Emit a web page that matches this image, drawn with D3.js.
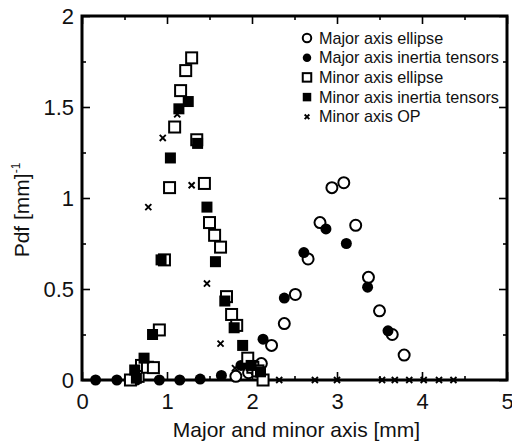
<!DOCTYPE html>
<html>
<head>
<meta charset="utf-8">
<script src="https://cdn.jsdelivr.net/npm/d3@7"></script>
<style>
  body { margin: 0; background: #fff; }
  svg { font-family: "Liberation Sans", Arial, sans-serif; }
</style>
</head>
<body>
<div id="chart"></div>
<script>
// values
const majorEllipseX = [1.81, 1.96, 2.05, 2.11, 2.23, 2.38, 2.51, 2.66, 2.80, 2.94, 3.08, 3.22, 3.37, 3.50, 3.65, 3.79];
const majorEllipseY = [0.02, 0.04, 0.05, 0.09, 0.19, 0.31, 0.47, 0.665, 0.865, 1.057, 1.084, 0.85, 0.564, 0.38, 0.25, 0.137];

const majorInertiaX = [0.16, 0.41, 0.64, 0.91, 1.15, 1.39, 1.64, 1.87, 2.00, 2.13, 2.38, 2.61, 2.87, 3.11, 3.36, 3.60];
const majorInertiaY = [0, 0, 0, 0, 0, 0.005, 0.025, 0.08, 0.08, 0.224, 0.45, 0.70, 0.83, 0.75, 0.51, 0.27];

const minorEllipseX = [0.57, 0.66, 0.70, 0.77, 0.84, 0.91, 0.97, 1.03, 1.09, 1.16, 1.22, 1.29, 1.35, 1.44, 1.50, 1.56, 1.63, 1.70, 1.76, 1.82, 1.95, 2.01, 2.07, 2.13];
const minorEllipseY = [0, 0.02, 0.08, 0.07, 0.068, 0.275, 0.66, 1.057, 1.39, 1.59, 1.70, 1.77, 1.32, 1.08, 0.865, 0.795, 0.73, 0.458, 0.36, 0.30, 0.12, 0.07, 0.05, 0];

const minorInertiaX = [0.62, 0.64, 0.73, 0.83, 0.93, 1.04, 1.14, 1.25, 1.36, 1.47, 1.57, 1.68, 1.79, 1.89, 1.99, 2.10];
const minorInertiaY = [0.055, 0.01, 0.12, 0.25, 0.66, 1.22, 1.49, 1.53, 1.30, 0.95, 0.65, 0.434, 0.287, 0.19, 0.08, 0.045];

const minorOpX = [0.78, 0.95, 1.12, 1.29, 1.47, 1.63, 1.80, 2.32, 2.74, 3.00, 3.53, 3.68, 3.85, 4.02, 4.20, 4.37];
const minorOpY = [0.95, 1.33, 1.46, 1.07, 0.53, 0.20, 0.065, 0, 0, 0, 0, 0, 0, 0, 0, 0];

const xTicks = [0, 1, 2, 3, 4, 5];
const yTicks = [0, 0.5, 1, 1.5, 2];
const legendLabels = ["Major axis ellipse", "Major axis inertia tensors", "Minor axis ellipse", "Minor axis inertia tensors", "Minor axis OP"];

const width = 512, height = 441;
const plotLeft = 82, plotRight = 507, plotTop = 16, plotBottom = 380;

const svg = d3.select("#chart").append("svg")
    .attr("width", width)
    .attr("height", height);

const x = d3.scaleLinear().domain([0, 5]).range([plotLeft, plotRight]);
const y = d3.scaleLinear().domain([0, 2]).range([plotBottom, plotTop]);

// axes with inward ticks
const fmt = d => d === 0 ? "0" : d3.format("~g")(d);

function styleAxis(g) {
    g.select(".domain").remove();
    g.selectAll(".tick line").attr("stroke", "#000").attr("stroke-width", 1.6);
}

svg.append("g")
    .attr("transform", `translate(0,${plotBottom})`)
    .call(d3.axisBottom(x).tickValues(xTicks).tickSizeInner(-8).tickSizeOuter(0).tickPadding(13).tickFormat(fmt))
    .call(styleAxis)
    .selectAll("text").attr("font-size", 22).attr("fill", "#111");

svg.append("g")
    .attr("transform", `translate(0,${plotBottom})`)
    .call(d3.axisBottom(x).tickValues(d3.range(0.5, 5, 1)).tickSize(-4).tickFormat(""))
    .call(styleAxis);

svg.append("g")
    .attr("transform", `translate(0,${plotTop})`)
    .call(d3.axisTop(x).tickValues(xTicks).tickSize(-8).tickFormat(""))
    .call(styleAxis);

svg.append("g")
    .attr("transform", `translate(0,${plotTop})`)
    .call(d3.axisTop(x).tickValues(d3.range(0.5, 5, 1)).tickSize(-4).tickFormat(""))
    .call(styleAxis);

svg.append("g")
    .attr("transform", `translate(${plotLeft},0)`)
    .call(d3.axisLeft(y).tickValues(yTicks).tickSizeInner(-8).tickSizeOuter(0).tickPadding(8).tickFormat(fmt))
    .call(styleAxis)
    .selectAll("text").attr("font-size", 22).attr("fill", "#111");

svg.append("g")
    .attr("transform", `translate(${plotLeft},0)`)
    .call(d3.axisLeft(y).tickValues(d3.range(0.25, 2, 0.5)).tickSize(-4).tickFormat(""))
    .call(styleAxis);

svg.append("g")
    .attr("transform", `translate(${plotRight},0)`)
    .call(d3.axisRight(y).tickValues(yTicks).tickSize(-8).tickFormat(""))
    .call(styleAxis);

svg.append("g")
    .attr("transform", `translate(${plotRight},0)`)
    .call(d3.axisRight(y).tickValues(d3.range(0.25, 2, 0.5)).tickSize(-4).tickFormat(""))
    .call(styleAxis);

// frame
svg.append("rect")
    .attr("x", plotLeft).attr("y", plotTop)
    .attr("width", plotRight - plotLeft).attr("height", plotBottom - plotTop)
    .attr("fill", "none").attr("stroke", "#000").attr("stroke-width", 3);

// axis titles
svg.append("text")
    .attr("x", (plotLeft + plotRight) / 2 + 2).attr("y", 437)
    .attr("text-anchor", "middle").attr("font-size", 21).attr("fill", "#111")
    .text("Major and minor axis [mm]");

const yt = svg.append("text")
    .attr("transform", "translate(29,210) rotate(-90)")
    .attr("text-anchor", "middle").attr("font-size", 21).attr("fill", "#111");
yt.append("tspan").text("Pdf [mm]");
yt.append("tspan").attr("dy", -9).attr("font-size", 12).text("-1");

// markers
function drawMarker(g, type, size) {
    const r = size / 2;
    if (type === "openCircle") {
        g.append("circle").attr("r", r).attr("fill", "#fff").attr("stroke", "#000").attr("stroke-width", 2);
    } else if (type === "filledCircle") {
        g.append("circle").attr("r", r).attr("fill", "#000");
    } else if (type === "openSquare") {
        g.append("rect").attr("x", -r).attr("y", -r).attr("width", size).attr("height", size)
            .attr("fill", "#fff").attr("stroke", "#000").attr("stroke-width", 2);
    } else if (type === "filledSquare") {
        g.append("rect").attr("x", -r).attr("y", -r).attr("width", size).attr("height", size).attr("fill", "#000");
    } else {
        const c = r * 0.55;
        g.append("path").attr("d", `M${-c},${-c}L${c},${c}M${-c},${c}L${c},${-c}`)
            .attr("stroke", "#000").attr("stroke-width", 1.9);
    }
}

const series = [
    { xs: minorOpX, ys: minorOpY, type: "cross" },
    { xs: majorEllipseX, ys: majorEllipseY, type: "openCircle" },
    { xs: majorInertiaX, ys: majorInertiaY, type: "filledCircle" },
    { xs: minorEllipseX, ys: minorEllipseY, type: "openSquare" },
    { xs: minorInertiaX, ys: minorInertiaY, type: "filledSquare" }
];

series.forEach(s => {
    const pts = s.xs.map((v, i) => [v, s.ys[i]]);
    svg.append("g").selectAll("g")
        .data(pts)
        .enter()
        .append("g")
        .attr("transform", d => `translate(${x(d[0])},${y(d[1])})`)
        .each(function() { drawMarker(d3.select(this), s.type, 11); });
});

// legend
const legendTypes = ["openCircle", "filledCircle", "openSquare", "filledSquare", "cross"];
const legend = svg.append("g");
legendLabels.forEach((label, i) => {
    const row = legend.append("g").attr("transform", `translate(307,${38 + i * 19.7})`);
    drawMarker(row.append("g"), legendTypes[i], 8.5);
    row.append("text").attr("x", 12).attr("dy", "0.35em")
        .attr("font-size", 16.2).attr("fill", "#111").text(label);
});
</script>
</body>
</html>
